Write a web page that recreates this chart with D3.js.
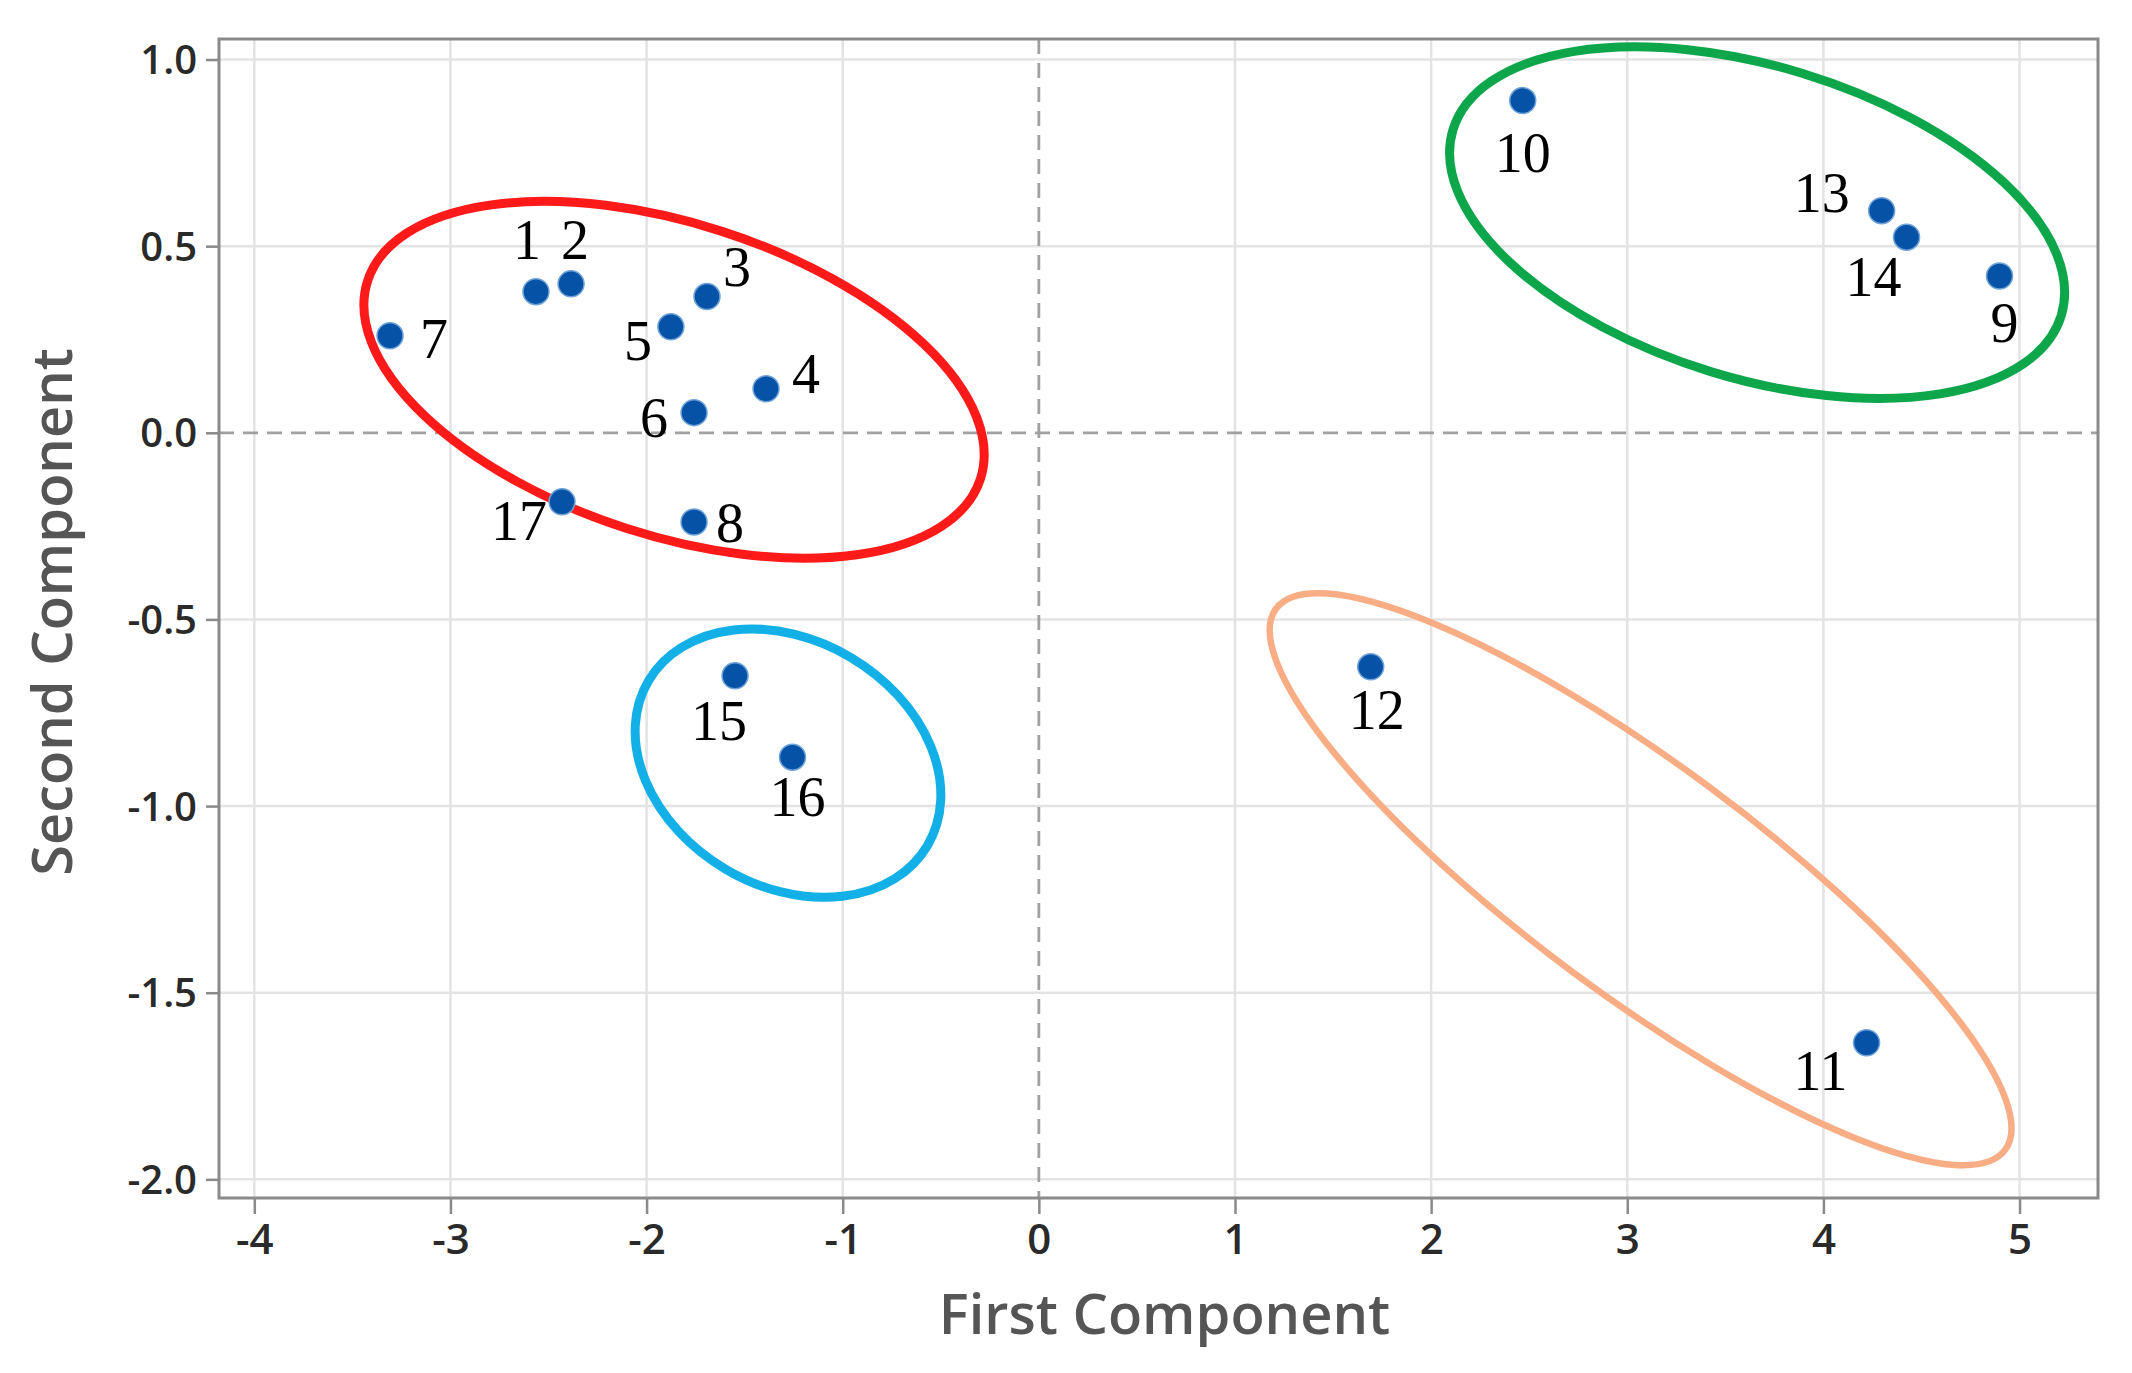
<!DOCTYPE html>
<html>
<head>
<meta charset="utf-8">
<script src="https://cdn.jsdelivr.net/npm/d3@7"></script>
<style>
  body { margin: 0; background: #fff; }
  svg { display: block; }
</style>
</head>
<body>
<div id="chart"></div>
<script>
// Sample ids and their scores on the first two components.
var sampleIds = ["1", "2", "3", "4", "5", "6", "7", "8", "9", "10", "11", "12", "13", "14", "15", "16", "17"];
var firstComp = [-2.564, -2.385, -1.692, -1.391, -1.876, -1.758, -3.308, -1.758, 4.898, 2.467, 4.220, 1.692, 4.297, 4.424, -1.549, -1.256, -2.431];
var secondComp = [0.378, 0.399, 0.365, 0.118, 0.284, 0.054, 0.260, -0.239, 0.420, 0.890, -1.634, -0.627, 0.595, 0.524, -0.651, -0.869, -0.185];

// Axis ticks.
var xTicks = [-4, -3, -2, -1, 0, 1, 2, 3, 4, 5];
var xTickLabels = ["-4", "-3", "-2", "-1", "0", "1", "2", "3", "4", "5"];
var yTicks = [1.0, 0.5, 0.0, -0.5, -1.0, -1.5, -2.0];
var yTickLabels = ["1.0", "0.5", "0.0", "-0.5", "-1.0", "-1.5", "-2.0"];

// Cluster ellipse centres (data units).
var clusterCx = [-1.860, 3.662, -1.279, 3.068];
var clusterCy = [0.142, 0.563, -0.885, -1.196];

(function () {
  var W = 2132, H = 1373;
  var margin = { top: 39, right: 34, bottom: 175, left: 219 };

  // Label offsets from each point, in pixels.
  var labelDx = [-9, 4, 30, 40, -33, -40, 44, 36, 5, 0, -46, 6, -60, -33, -16, 5, -43];
  var labelDy = [-52, -44, -30, -15, 14, 5, 3, 1, 47, 52, 28, 43, -18, 40, 45, 40, 19];

  // Ellipse shapes in pixels (semi axes and rotation) and colours.
  var ellRx = [322, 318, 162, 454];
  var ellRy = [156, 156, 123, 115];
  var ellAngle = [17.9, 17.0, 30.6, 36.6];
  var ellColor = ["#ff1a1a", "#0da64b", "#12b0e6", "#f9ad84"];
  var ellWidth = [9, 9, 9, 6.5];

  var svg = d3.select("#chart").append("svg")
    .attr("width", W)
    .attr("height", H);

  svg.append("rect").attr("width", W).attr("height", H).attr("fill", "#fff");

  var x = d3.scaleLinear().domain([-4.18, 5.4]).range([margin.left, W - margin.right]);
  var y = d3.scaleLinear().domain([-2.05, 1.055]).range([H - margin.bottom, margin.top]);

  var x0 = x.range()[0], x1 = x.range()[1];
  var y0 = y.range()[1], y1 = y.range()[0];

  // Grid lines.
  var grid = svg.append("g").attr("class", "grid");
  grid.selectAll(".vgrid")
    .data(xTicks.filter(function (d) { return d !== 0; }))
    .enter().append("line")
    .attr("x1", d => x(d)).attr("x2", d => x(d))
    .attr("y1", y0).attr("y2", y1)
    .attr("stroke", "#e3e3e3").attr("stroke-width", 2.5);
  grid.selectAll(".hgrid")
    .data(yTicks.filter(function (d) { return d !== 0; }))
    .enter().append("line")
    .attr("y1", d => y(d)).attr("y2", d => y(d))
    .attr("x1", x0).attr("x2", x1)
    .attr("stroke", "#e3e3e3").attr("stroke-width", 2.5);

  // Dashed zero lines.
  svg.append("line")
    .attr("x1", x(0)).attr("x2", x(0)).attr("y1", y0).attr("y2", y1)
    .attr("stroke", "#a0a0a0").attr("stroke-width", 2.8).attr("stroke-dasharray", "15,9");
  svg.append("line")
    .attr("x1", x0).attr("x2", x1).attr("y1", y(0)).attr("y2", y(0))
    .attr("stroke", "#a0a0a0").attr("stroke-width", 2.8).attr("stroke-dasharray", "15,9");

  // Axes.
  var xAxis = svg.append("g")
    .attr("transform", "translate(0," + y1 + ")")
    .call(d3.axisBottom(x).tickValues(xTicks).tickSize(16).tickPadding(10)
      .tickFormat(function (d, i) { return xTickLabels[i]; }));
  var yAxis = svg.append("g")
    .attr("transform", "translate(" + x0 + ",0)")
    .call(d3.axisLeft(y).tickValues(yTicks).tickSize(13).tickPadding(9)
      .tickFormat(function (d, i) { return yTickLabels[i]; }));

  [xAxis, yAxis].forEach(function (ax) {
    ax.select(".domain").remove();
    ax.selectAll(".tick line").attr("stroke", "#8a8a8a").attr("stroke-width", 2.5);
    ax.selectAll(".tick text")
      .attr("fill", "#2a2a2a")
      .style("font-family", "'Open Sans', sans-serif")
      .style("font-weight", 600);
  });
  xAxis.selectAll(".tick text").style("font-size", "42px");
  yAxis.selectAll(".tick text").style("font-size", "40px").attr("dy", "0.35em");

  // Plot frame.
  svg.append("rect")
    .attr("x", x0).attr("y", y0)
    .attr("width", x1 - x0).attr("height", y1 - y0)
    .attr("fill", "none").attr("stroke", "#8a8a8a").attr("stroke-width", 3);

  // Cluster ellipses.
  svg.selectAll(".cluster")
    .data(clusterCx)
    .enter().append("ellipse")
    .attr("class", "cluster")
    .attr("cx", 0).attr("cy", 0)
    .attr("rx", (d, i) => ellRx[i]).attr("ry", (d, i) => ellRy[i])
    .attr("transform", (d, i) => "translate(" + x(d) + "," + y(clusterCy[i]) + ") rotate(" + ellAngle[i] + ")")
    .attr("fill", "none")
    .attr("stroke", (d, i) => ellColor[i])
    .attr("stroke-width", (d, i) => ellWidth[i]);

  // Points.
  svg.selectAll(".pt")
    .data(sampleIds)
    .enter().append("circle")
    .attr("class", "pt")
    .attr("cx", (d, i) => x(firstComp[i]))
    .attr("cy", (d, i) => y(secondComp[i]))
    .attr("r", 13)
    .attr("fill", "#0652a6")
    .attr("stroke", "#6fa3d8")
    .attr("stroke-width", 1.5);

  // Point labels.
  svg.selectAll(".pt-label")
    .data(sampleIds)
    .enter().append("text")
    .attr("class", "pt-label")
    .attr("x", (d, i) => x(firstComp[i]) + labelDx[i])
    .attr("y", (d, i) => y(secondComp[i]) + labelDy[i])
    .attr("text-anchor", "middle")
    .attr("dominant-baseline", "central")
    .style("font-family", "'Liberation Serif', 'Times New Roman', serif")
    .style("font-size", "56px")
    .attr("fill", "#000")
    .text(d => d);

  // Axis titles.
  svg.append("text")
    .attr("x", (x0 + x1) / 2 + 6)
    .attr("y", 1334)
    .attr("text-anchor", "middle")
    .style("font-family", "'Open Sans', sans-serif")
    .style("font-weight", 600)
    .style("font-size", "56px")
    .attr("fill", "#555")
    .text("First Component");

  svg.append("text")
    .attr("transform", "translate(72," + 612 + ") rotate(-90)")
    .attr("text-anchor", "middle")
    .style("font-family", "'Open Sans', sans-serif")
    .style("font-weight", 600)
    .style("font-size", "56px")
    .attr("fill", "#555")
    .text("Second Component");
})();
</script>
</body>
</html>
